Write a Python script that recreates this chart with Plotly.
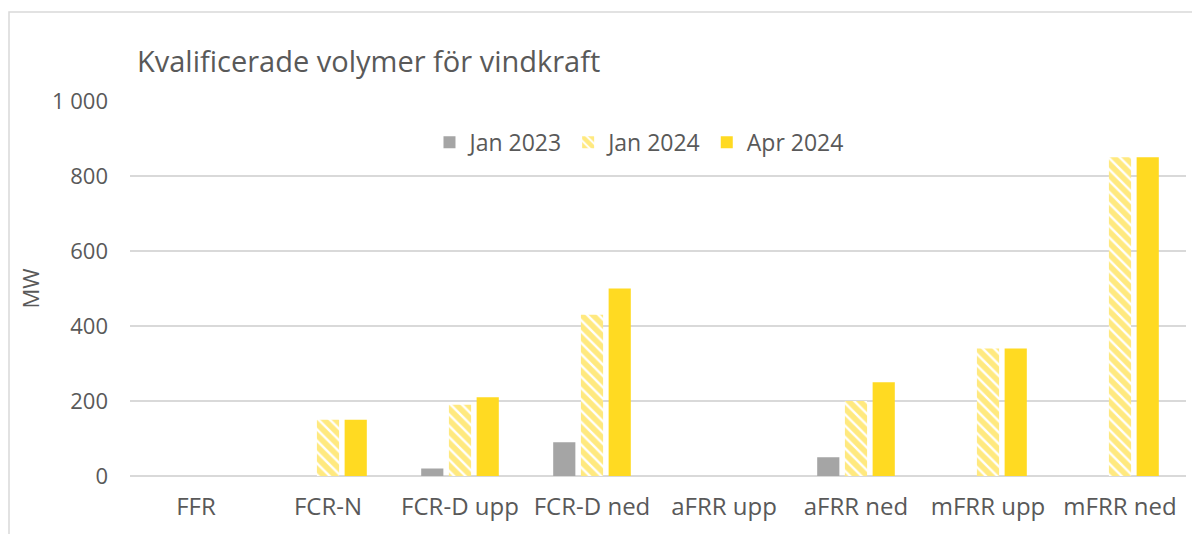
import plotly.graph_objects as go

categories = ["FFR", "FCR-N", "FCR-D upp", "FCR-D ned", "aFRR upp", "aFRR ned", "mFRR upp", "mFRR ned"]
jan_2023 = [0, 0, 20, 90, 0, 50, 0, 0]
jan_2024 = [0, 150, 190, 430, 0, 200, 340, 850]
apr_2024 = [0, 150, 210, 500, 0, 250, 340, 850]
y_ticks = [0, 200, 400, 600, 800, 1000]

GRAY = "#A5A5A5"
YELLOW = "#FFDA22"
TEXT = "#595959"
FONT = "Open Sans"

fig = go.Figure()
fig.add_trace(go.Bar(name="Jan 2023", x=categories, y=jan_2023, marker=dict(color=GRAY, line=dict(width=0))))
fig.add_trace(go.Bar(name="Jan 2024", x=categories, y=jan_2024,
                     marker=dict(color="white", line=dict(width=0),
                                 pattern=dict(shape="\\", fgcolor="#FFD400", bgcolor="white",
                                              size=8, solidity=0.7, fillmode="overlay"))))
fig.add_trace(go.Bar(name="Apr 2024", x=categories, y=apr_2024, marker=dict(color=YELLOW, line=dict(width=0))))

# outer frame (plot area spans screen x 130..1186, y 101..476)
fig.add_shape(type="rect", xref="paper", yref="paper",
              x0=(9 - 130) / 1056, x1=(1230 - 130) / 1056,
              y0=(476 - 560) / 375, y1=(476 - 12) / 375,
              line=dict(color="#D9D9D9", width=1.5), fillcolor="rgba(0,0,0,0)", layer="below")

# page body has an 8px margin, so the figure is offset by 8px
fig.update_layout(
    width=1200, height=534,
    margin=dict(l=122, r=22, t=93, b=66),
    paper_bgcolor="white", plot_bgcolor="white",
    separators=", ",
    font=dict(family=FONT, color=TEXT, size=22),
    title=dict(text="Kvalificerade volymer för vindkraft", x=129 / 1200, xanchor="left",
               y=1 - 54 / 534, yanchor="middle", font=dict(size=29, color=TEXT, family=FONT)),
    barmode="group", bargap=0.37, bargroupgap=0.2,
    showlegend=True,
    legend=dict(orientation="h", x=0.482, xanchor="center", y=0.89, yanchor="middle",
                font=dict(size=23, color=TEXT), bgcolor="rgba(0,0,0,0)",
                itemwidth=30, tracegroupgap=0, traceorder="normal"),
    xaxis=dict(showgrid=False, showline=False, ticks="", ticklabelstandoff=14,
               tickfont=dict(size=24, color=TEXT)),
    yaxis=dict(range=[0, 1000], tickvals=y_ticks, tickformat=",d", showgrid=True,
               gridcolor="#D9D9D9", gridwidth=1.5, zeroline=True, zerolinecolor="#D9D9D9",
               zerolinewidth=1.5, showline=False, ticks="", ticklabelstandoff=21,
               tickfont=dict(size=22, color=TEXT),
               title=dict(text="MW", font=dict(size=22, color=TEXT), standoff=6)),
)

fig.write_html("out.html")
